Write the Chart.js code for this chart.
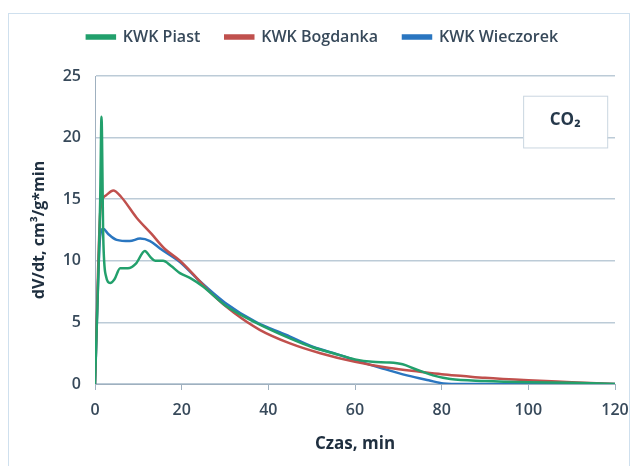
<!DOCTYPE html>
<html>
<head>
<meta charset="utf-8">
<script src="https://cdn.jsdelivr.net/npm/chart.js@4"></script>
<style>
  html, body { margin: 0; padding: 0; background: #ffffff; }
  #wrap { position: relative; width: 637px; height: 466px; overflow: hidden; }
  #frame { position: absolute; left: 8px; top: 13px; width: 622px; height: 470px; border: 1px solid #cfe0ee; box-sizing: border-box; }
  canvas { position: absolute; left: 0; top: 0; }
</style>
</head>
<body>
<div id="wrap">
  <div id="frame"></div>
  <canvas id="chart" width="637" height="466"></canvas>
</div>
<script>
// Time, min
const piastX = [0, 1.2, 1.5, 1.9, 2.5, 3.5, 4.5, 5.8, 7.6, 9.5, 11.5, 12.8, 13.9, 15.7, 17.5, 19.6, 22, 25, 30, 37, 45, 50, 55, 60, 64, 68, 71, 74, 78, 82, 90, 100, 110, 120]
const piastY = [0, 15, 21.7, 12, 8.8, 8.2, 8.5, 9.4, 9.4, 9.8, 10.8, 10.3, 10, 10, 9.6, 9.0, 8.6, 7.9, 6.4, 5.0, 3.7, 3.0, 2.5, 2.0, 1.8, 1.75, 1.6, 1.2, 0.7, 0.4, 0.25, 0.15, 0.1, 0]

const bogdankaX = [0, 1.3, 2.5, 4.2, 6, 9.6, 13, 16, 19.6, 23.5, 27, 32, 38, 45, 52, 60, 68, 75, 80, 85, 90, 100, 110, 120]
const bogdankaY = [0, 14.3, 15.3, 15.7, 15.2, 13.5, 12.2, 11.0, 10.0, 8.6, 7.3, 5.8, 4.4, 3.3, 2.5, 1.8, 1.3, 1.0, 0.8, 0.65, 0.5, 0.3, 0.15, 0]

const wieczorekX = [0, 1.2, 1.9, 3, 5, 8, 10.4, 12.7, 15, 19.6, 24, 30, 37.3, 44, 50.4, 56, 60.4, 66, 72, 77, 80.4, 85, 95, 110, 120]
const wieczorekY = [0, 12.0, 12.6, 12.2, 11.7, 11.6, 11.8, 11.6, 11.0, 9.9, 8.4, 6.6, 5.0, 4.0, 3.0, 2.4, 1.9, 1.3, 0.7, 0.3, 0.05, 0, 0, 0, 0]

const seriesNames = ['KWK Piast', 'KWK Bogdanka', 'KWK Wieczorek']
const seriesColors = ['#22a06c', '#c0504d', '#2a76c0']

const xTicks = [0, 20, 40, 60, 80, 100, 120]
const yTicks = [0, 5, 10, 15, 20, 25]

const toPoints = (xs, ys) => xs.map((x, i) => ({ x, y: ys[i] }))
const allSeries = [
    toPoints(piastX, piastY),
    toPoints(bogdankaX, bogdankaY),
    toPoints(wieczorekX, wieczorekY)
]

const textColor = '#37495a'
const fontFamily = '"Open Sans", "Liberation Sans", sans-serif'

// extra room under the legend
const legendGap = {
    id: 'legendGap',
    beforeInit(chart) {
        const fit = chart.legend.fit
        chart.legend.fit = function () {
            fit.bind(chart.legend)()
            this.height += 21
        }
    }
}

// label box in the upper right corner
const gasBox = {
    id: 'gasBox',
    afterDraw(chart) {
        const { ctx, scales: { x, y } } = chart
        const left = x.getPixelForValue(98.8)
        const right = x.getPixelForValue(118.2)
        const top = y.getPixelForValue(23.4)
        const bottom = y.getPixelForValue(19.2)
        ctx.save()
        ctx.fillStyle = '#ffffff'
        ctx.fillRect(left, top, right - left, bottom - top)
        ctx.strokeStyle = '#cad6e0'
        ctx.lineWidth = 1
        ctx.strokeRect(left + 0.5, top + 0.5, right - left, bottom - top)
        ctx.fillStyle = '#25384a'
        ctx.font = '700 17px ' + fontFamily
        ctx.textAlign = 'center'
        ctx.textBaseline = 'middle'
        ctx.fillText('CO₂', (left + right) / 2, (top + bottom) / 2 - 1)
        ctx.restore()
    }
}

new Chart(document.getElementById('chart'), {
    type: 'line',
    data: {
        datasets: allSeries.map((pts, i) => ({
            label: seriesNames[i],
            data: pts,
            borderColor: seriesColors[i],
            backgroundColor: seriesColors[i],
            borderWidth: 2.5,
            pointRadius: 0,
            cubicInterpolationMode: 'monotone',
            fill: false
        }))
    },
    options: {
        responsive: false,
        animation: false,
        layout: { padding: { top: 4, left: 30, right: 22, bottom: 12 } },
        plugins: {
            tooltip: { enabled: false },
            legend: {
                position: 'top',
                labels: {
                    color: textColor,
                    font: { family: fontFamily, size: 16, weight: '600' },
                    boxWidth: 28,
                    boxHeight: 3,
                    padding: 25
                }
            }
        },
        scales: {
            x: {
                type: 'linear',
                min: 0,
                max: 120,
                afterBuildTicks: (axis) => { axis.ticks = xTicks.map(v => ({ value: v })) },
                afterFit: (axis) => {
                    axis.height = 70
                    axis.paddingLeft = 0
                    axis.paddingRight = 0
                },
                ticks: {
                    color: textColor,
                    font: { family: fontFamily, size: 16, weight: '600' },
                    padding: 11
                },
                grid: { display: true, drawOnChartArea: false, color: '#9fb0bf', tickLength: 6 },
                border: { color: '#9fb0bf' },
                title: {
                    display: true,
                    text: 'Czas, min',
                    color: '#1f2f3f',
                    font: { family: fontFamily, size: 17, weight: '700' },
                    padding: { top: 4, bottom: 0 }
                }
            },
            y: {
                min: 0,
                max: 25,
                afterBuildTicks: (axis) => { axis.ticks = yTicks.map(v => ({ value: v })) },
                afterFit: (axis) => { axis.width = 65 },
                ticks: {
                    color: textColor,
                    font: { family: fontFamily, size: 16, weight: '600' },
                    padding: 14
                },
                grid: { color: '#bccbd7', lineWidth: 1.5, drawTicks: false },
                border: { color: '#9fb0bf' },
                title: {
                    display: true,
                    text: 'dV/dt, cm³/g*min',
                    color: '#1f2f3f',
                    font: { family: fontFamily, size: 16, weight: '700' },
                    padding: { top: 0, bottom: 4 }
                }
            }
        }
    },
    plugins: [legendGap, gasBox]
})
</script>
</body>
</html>
